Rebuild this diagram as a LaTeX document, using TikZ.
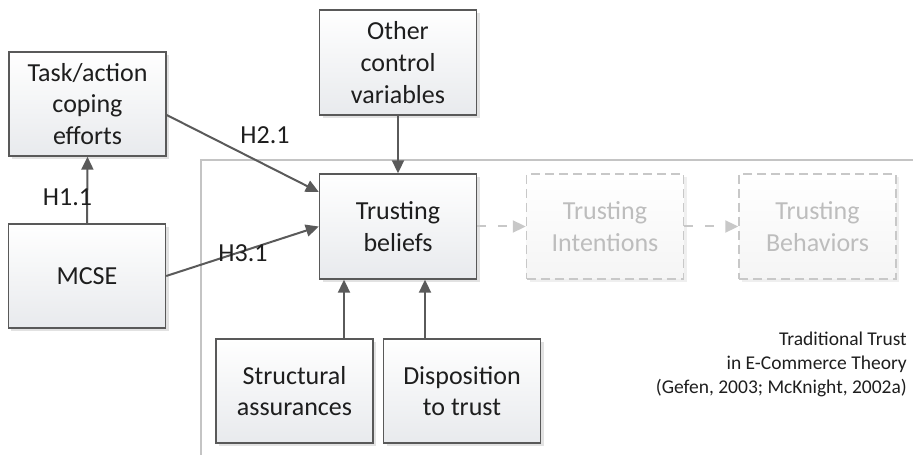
\documentclass[tikz,border=0pt]{standalone}
\usepackage{fontspec}
\setmainfont{Carlito}
\usetikzlibrary{arrows.meta,shadows,calc}
\definecolor{boxline}{HTML}{595959}
\definecolor{boxbot}{HTML}{E8EAED}
\definecolor{arrcol}{HTML}{5A5A5A}
\definecolor{framecol}{HTML}{C4C4C4}
\definecolor{ghostline}{HTML}{C8C8C8}
\definecolor{ghosttext}{HTML}{BDBDBD}
\definecolor{txt}{HTML}{1E1E1E}
\definecolor{shadowcol}{HTML}{E2E2E2}
\definecolor{ghostshadow}{HTML}{EFEFEF}
\tikzset{
  boxstyle/.style={rectangle, draw=boxline, line width=1.4bp,
    top color=white, bottom color=boxbot,
    minimum width=157bp, minimum height=104bp, align=center,
    text=txt, font=\fontsize{26bp}{31.7bp}\selectfont,
    general shadow={shadow xshift=3bp, shadow yshift=-3bp, fill=shadowcol, draw=none}},
  ghostbox/.style={rectangle, draw=ghostline, line width=1.4bp,
    dash pattern=on 9bp off 5bp,
    top color=white, bottom color=black!4,
    minimum width=157bp, minimum height=104bp, align=center,
    text=ghosttext, font=\fontsize{26bp}{31.7bp}\selectfont,
    general shadow={shadow xshift=3bp, shadow yshift=-3bp, fill=ghostshadow, draw=none}},
  arr/.style={draw=arrcol, line width=2bp, -{Triangle[length=13bp,width=12bp]}},
  ghostarr/.style={draw=ghostline, line width=2bp, dash pattern=on 9bp off 12bp,
    -{Triangle[length=13bp,width=12bp]}},
  hlabel/.style={text=txt, font=\fontsize{26bp}{31.7bp}\selectfont},
  framestyle/.style={draw=framecol, line width=1.3bp}
}
\begin{document}
\begin{tikzpicture}[x=1bp,y=-1bp]
\useasboundingbox (0,0) rectangle (913,455);
% frame
\coordinate (fbl) at (201,455);
\coordinate (ftl) at (201,160);
\coordinate (ftr) at (913,160);
\draw[framestyle] (fbl) -- (ftl) -- (ftr);
% boxes
\node[boxstyle] (task) at (87.5,104) {Task/action\\coping\\efforts};
\node[boxstyle] (mcse) at (87,276) {MCSE};
\node[boxstyle, minimum height=105bp] (other) at (398,62.5) {Other\\control\\variables};
\node[boxstyle, minimum height=105bp] (tb) at (398,226.5) {Trusting\\beliefs};
\node[ghostbox, minimum height=105bp] (ti) at (605,226.5) {Trusting\\Intentions};
\node[ghostbox, minimum height=105bp] (tbh) at (817.5,226.5) {Trusting\\Behaviors};
\node[boxstyle] (struct) at (294.5,391) {Structural\\assurances};
\node[boxstyle] (disp) at (462,391) {Disposition\\to trust};
% arrows
\draw[arr] (mcse.north) -- (task.south);
\draw[arr] ([yshift=-11bp]task.east) -- ([yshift=34.5bp]tb.west);
\draw[arr] (mcse.east) -- (tb.west);
\draw[arr] (other.south) -- (tb.north);
\draw[arr] ([xshift=-54bp]tb.south |- struct.north) -- ([xshift=-54bp]tb.south);
\draw[arr] ([xshift=27bp]tb.south |- disp.north) -- ([xshift=27bp]tb.south);
\draw[ghostarr] (tb.east) -- (ti.west);
\draw[ghostarr] (ti.east) -- (tbh.west);
% labels
\node[hlabel] (h11) at (67.5,197) {H1.1};
\node[hlabel] (h21) at (265,135) {H2.1};
\node[hlabel] (h31) at (243,253) {H3.1};
% caption
\node[anchor=base east, align=right, inner sep=0pt, text=txt,
  font=\fontsize{19.5bp}{23.5bp}\selectfont] (cap) at (907,393)
  {Traditional Trust\\in E-Commerce Theory\\(Gefen, 2003; McKnight, 2002a)};
\end{tikzpicture}
\end{document}
